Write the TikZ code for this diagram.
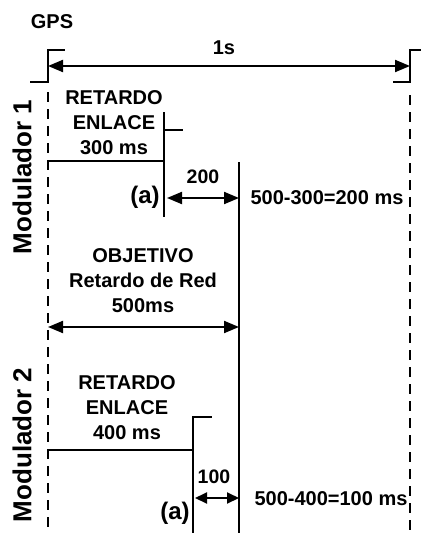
\documentclass[tikz,border=0pt]{standalone}
\usepackage{fontspec}
\setmainfont{Liberation Sans}
\usetikzlibrary{arrows.meta, positioning, calc}
\tikzset{
  every picture/.style={line width=2pt},
  lbl/.style={font=\fontsize{20}{25}\selectfont\bfseries, align=center, inner sep=0pt},
  small/.style={font=\fontsize{19.5}{22}\selectfont\bfseries, inner sep=0pt},
  paren/.style={font=\fontsize{24}{28}\selectfont\bfseries, inner sep=0pt},
  modlbl/.style={font=\fontsize{26}{30}\selectfont\bfseries, rotate=90, inner sep=0pt},
  guide/.style={dash pattern=on 10pt off 7pt, line width=2.5pt},
  dim/.style={{Triangle[length=15pt,width=12pt]}-{Triangle[length=15pt,width=12pt]}, line width=2pt},
  dimsmall/.style={{Triangle[length=12pt,width=11pt]}-{Triangle[length=12pt,width=11pt]}, line width=2pt},
}

\begin{document}
\begin{tikzpicture}[x=1pt, y=-1pt]
  \useasboundingbox (0,0) rectangle (421,533);

  % GPS ticks and the 1 s window
  \node[lbl] (gps) at (52,22) {GPS};
  \coordinate (gl0) at (30,82);  \coordinate (gl1) at (48,82);
  \coordinate (gl2) at (48,50);  \coordinate (gl3) at (65,50);
  \coordinate (gr0) at (393,82); \coordinate (gr1) at (410,82);
  \coordinate (gr2) at (410,50); \coordinate (gr3) at (421,50);
  \draw (gl0) -- (gl1) -- (gl2) -- (gl3);
  \draw (gr0) -- (gr1) -- (gr2) -- (gr3);
  \coordinate (sl) at (48,66);   \coordinate (sr) at (410,66);
  \draw[dim] (sl) -- (sr);
  \node[lbl] (onesec) at (224,48) {1s};

  % dashed second marks
  \coordinate (dl) at (48,92);   \coordinate (dlb) at (48,533);
  \coordinate (dr) at (410,95);  \coordinate (drb) at (410,533);
  \draw[guide] (dl) -- (dlb);
  \draw[guide] (dr) -- (drb);

  % module 1
  \node[modlbl] (mod1) at (22,177) {Modulador 1};
  \node[lbl] (ret1) at (114,123) {RETARDO\\ENLACE\\300 ms};
  \coordinate (m1a) at (48,161);  \coordinate (m1b) at (164,161);
  \coordinate (m1c) at (164,130); \coordinate (m1d) at (183,130);
  \coordinate (m1t) at (164,112); \coordinate (m1e) at (164,217);
  \draw (m1a) -- (m1b) -- (m1c) -- (m1d);
  \draw (m1t) -- (m1e);
  \node[paren] (a1) at (145,197) {(a)};

  % target network delay
  \coordinate (obj) at (239,162); \coordinate (objb) at (239,533);
  \draw (obj) -- (objb);
  \coordinate (d1l) at (167,198); \coordinate (d1r) at (239,198);
  \draw[dim] (d1l) -- (d1r);
  \node[small] (w1) at (203,177) {200};
  \node[lbl] (res1) at (327,198) {500-300=200 ms};
  \node[lbl] (objt) at (143,281) {OBJETIVO\\Retardo de Red\\500ms};
  \coordinate (ol) at (48,327);   \coordinate (orr) at (239,327);
  \draw[dim] (ol) -- (orr);

  % module 2
  \node[modlbl] (mod2) at (22,445) {Modulador 2};
  \node[lbl] (ret2) at (127,408) {RETARDO\\ENLACE\\400 ms};
  \coordinate (m2a) at (48,450);  \coordinate (m2b) at (193,450);
  \coordinate (m2c) at (193,417); \coordinate (m2d) at (212,417);
  \coordinate (m2e) at (193,533);
  \draw (m2a) -- (m2b) -- (m2c) -- (m2d);
  \draw (m2c) -- (m2e);
  \coordinate (d2l) at (195,498); \coordinate (d2r) at (239,498);
  \draw[dimsmall] (d2l) -- (d2r);
  \node[small] (w2) at (214,477) {100};
  \node[paren] (a2) at (175,513) {(a)};
  \node[lbl] (res2) at (331,499) {500-400=100 ms};
\end{tikzpicture}
\end{document}
